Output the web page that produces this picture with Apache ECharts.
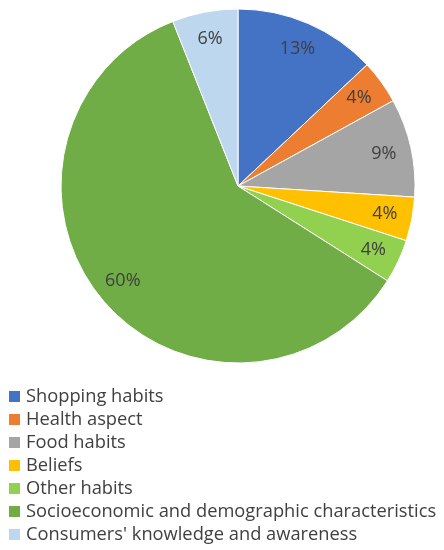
<!DOCTYPE html>
<html>
<head>
<meta charset="utf-8">
<script src="https://cdn.jsdelivr.net/npm/echarts@6/dist/echarts.min.js"></script>
<style>
  html, body { margin: 0; padding: 0; background: #fff; }
  #chart { width: 444px; height: 550px; }
</style>
</head>
<body>
<div id="chart"></div>
<script>
var categories = ['Shopping habits', 'Health aspect', 'Food habits', 'Beliefs', 'Other habits',
    'Socioeconomic and demographic characteristics', "Consumers' knowledge and awareness"];
var shares = [13, 4, 9, 4, 4, 60, 6];
var colors = ['#4472C4', '#ED7D31', '#A5A5A5', '#FFC000', '#92D050', '#70AD47', '#BDD7EE'];

var font = 'Open Sans';
var pieData = categories.map(function (name, i) {
    return { name: name, value: shares[i] };
});

var chart = echarts.init(document.getElementById('chart'));
chart.setOption({
    animation: false,
    color: colors,
    legend: {
        orient: 'vertical',
        left: 7,
        top: 387,
        padding: 0,
        itemWidth: 13,
        itemHeight: 13,
        itemGap: 4,
        icon: 'rect',
        data: categories,
        textStyle: { fontFamily: font, fontSize: 18.3, lineHeight: 19, color: '#404040' }
    },
    series: [
        {
            type: 'pie',
            center: [238, 186],
            radius: [0, 177],
            startAngle: 90,
            clockwise: true,
            label: { show: false },
            labelLine: { show: false },
            itemStyle: { borderColor: '#fff', borderWidth: 1 },
            emphasis: { disabled: true },
            data: pieData
        },
        {
            // transparent ring only to place the labels near the rim
            type: 'pie',
            center: [238, 186],
            radius: [116, 177],
            startAngle: 90,
            clockwise: true,
            silent: true,
            legendHoverLink: false,
            itemStyle: { color: 'rgba(0,0,0,0)' },
            emphasis: { disabled: true },
            label: {
                show: true,
                position: 'inside',
                formatter: '{d}%',
                fontFamily: font,
                fontSize: 18,
                color: '#404040'
            },
            labelLine: { show: false },
            data: pieData
        }
    ]
});
</script>
</body>
</html>
